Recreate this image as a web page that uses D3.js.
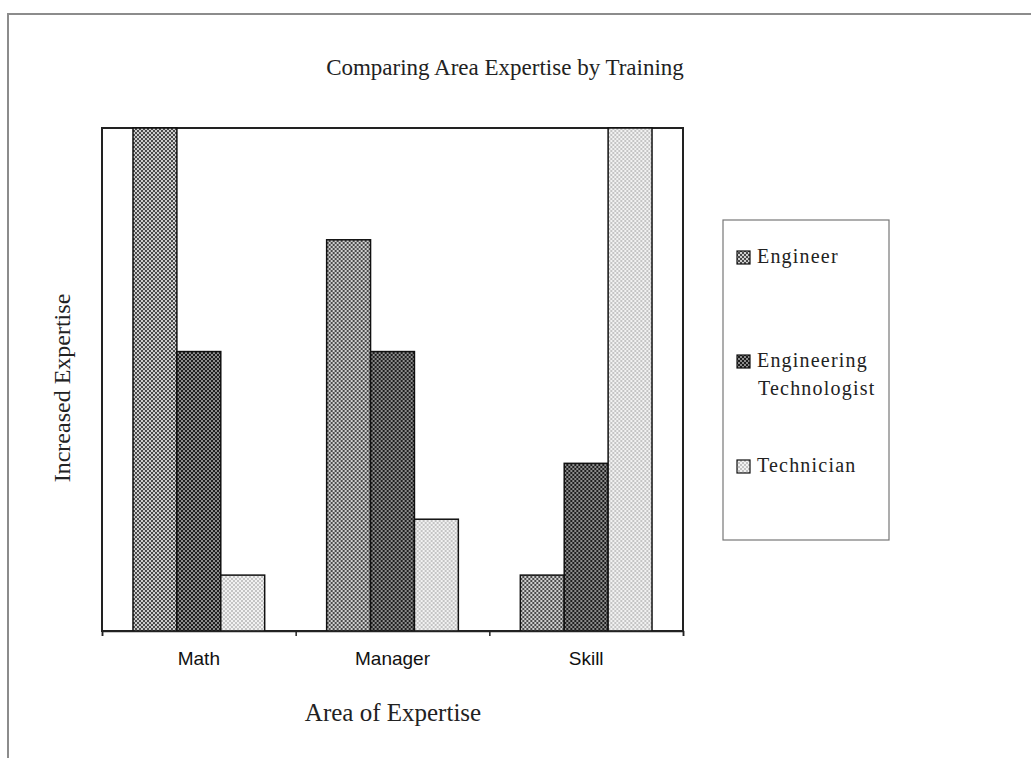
<!DOCTYPE html>
<html>
<head>
<meta charset="utf-8">
<script src="https://cdn.jsdelivr.net/npm/d3@7"></script>
<style>
  body { margin: 0; background: #fff; }
  svg { display: block; }
</style>
</head>
<body>
<div id="chart"></div>
<script>
// data
const categories = ['Math', 'Manager', 'Skill'];
const seriesNames = ['Engineer', 'Engineering Technologist', 'Technician'];
const engineer = [9, 7, 1];
const engTech = [5, 5, 3];
const technician = [1, 2, 9];
const yMax = 9;

const w = 1031, h = 758;
const plotL = 102, plotR = 683, plotT = 128, plotB = 631;

const svg = d3.select('#chart')
  .append('svg')
  .attr('width', w)
  .attr('height', h);

// hatch-like fills
const defs = svg.append('defs');
const fills = [
  { id: 'pEng', base: '#4a4a4a', dot: '#cfcfcf' },
  { id: 'pTech', base: '#1e1e1e', dot: '#8c8c8c' },
  { id: 'pTechn', base: '#f2f2f2', dot: '#c4c4c4' }
];
fills.forEach(f => {
  const p = defs.append('pattern')
    .attr('id', f.id)
    .attr('patternUnits', 'userSpaceOnUse')
    .attr('width', 4).attr('height', 4);
  p.append('rect').attr('width', 4).attr('height', 4).attr('fill', f.base);
  p.append('rect').attr('x', 0).attr('y', 0).attr('width', 2).attr('height', 2).attr('fill', f.dot);
  p.append('rect').attr('x', 2).attr('y', 2).attr('width', 2).attr('height', 2).attr('fill', f.dot);
});

// outer frame (runs off the right and bottom edges)
svg.append('rect')
  .attr('x', 8).attr('y', 14)
  .attr('width', w + 20).attr('height', h + 20)
  .attr('fill', 'none')
  .attr('stroke', '#8c8c8c')
  .attr('stroke-width', 2);

// scales
const x = d3.scaleBand()
  .domain(categories)
  .range([plotL, plotR])
  .paddingInner(0.32)
  .paddingOuter(0.16);

const xSub = d3.scaleBand()
  .domain(seriesNames)
  .range([0, x.bandwidth()]);

const y = d3.scaleLinear()
  .domain([0, yMax])
  .range([plotB, plotT]);

const rows = categories.map((c, i) => ({
  cat: c,
  vals: [engineer[i], engTech[i], technician[i]]
}));

// plot border
svg.append('rect')
  .attr('x', plotL).attr('y', plotT)
  .attr('width', plotR - plotL).attr('height', plotB - plotT)
  .attr('fill', 'none')
  .attr('stroke', '#222')
  .attr('stroke-width', 2);

// bars
const groups = svg.selectAll('g.cat')
  .data(rows)
  .enter()
  .append('g')
  .attr('class', 'cat')
  .attr('transform', d => 'translate(' + x(d.cat) + ',0)');

groups.selectAll('rect')
  .data(d => d.vals.map((v, j) => ({ name: seriesNames[j], v: v, j: j })))
  .enter()
  .append('rect')
  .attr('x', d => xSub(d.name))
  .attr('y', d => y(d.v))
  .attr('width', xSub.bandwidth())
  .attr('height', d => plotB - y(d.v))
  .attr('fill', d => 'url(#' + fills[d.j].id + ')')
  .attr('stroke', '#111')
  .attr('stroke-width', 1.5);

// tick marks at band edges
const xTicks = d3.scaleLinear().domain([0, categories.length]).range([plotL, plotR]);
svg.append('g')
  .attr('transform', 'translate(0,' + plotB + ')')
  .call(d3.axisBottom(xTicks).ticks(categories.length).tickFormat('').tickSize(5).tickSizeOuter(5))
  .call(g => g.selectAll('line, path').attr('stroke', '#222').attr('stroke-width', 1.5));

// category labels
svg.append('g')
  .attr('transform', 'translate(0,' + plotB + ')')
  .call(d3.axisBottom(x).tickSize(0).tickPadding(21))
  .call(g => g.select('.domain').remove())
  .call(g => g.selectAll('text')
    .attr('font-family', 'Liberation Sans, Arial, sans-serif')
    .attr('font-size', 19)
    .attr('fill', '#111'));

// title and axis titles
svg.append('text')
  .attr('x', 505).attr('y', 75)
  .attr('text-anchor', 'middle')
  .attr('font-family', 'Liberation Serif, Times New Roman, serif')
  .attr('font-size', 23)
  .attr('fill', '#222')
  .text('Comparing Area Expertise by Training');

svg.append('text')
  .attr('x', 393).attr('y', 721)
  .attr('text-anchor', 'middle')
  .attr('font-family', 'Liberation Serif, Times New Roman, serif')
  .attr('font-size', 25)
  .attr('fill', '#222')
  .text('Area of Expertise');

svg.append('text')
  .attr('transform', 'translate(70,388) rotate(-90)')
  .attr('text-anchor', 'middle')
  .attr('font-family', 'Liberation Serif, Times New Roman, serif')
  .attr('font-size', 24)
  .attr('fill', '#222')
  .text('Increased Expertise');

// legend
const legend = svg.append('g');
legend.append('rect')
  .attr('x', 723).attr('y', 220)
  .attr('width', 166).attr('height', 320)
  .attr('fill', '#fff')
  .attr('stroke', '#777')
  .attr('stroke-width', 1.2);

const legendRows = [
  { lines: ['Engineer'], y: 263 },
  { lines: ['Engineering', 'Technologist'], y: 367 },
  { lines: ['Technician'], y: 472 }
];

legendRows.forEach((r, i) => {
  legend.append('rect')
    .attr('x', 737).attr('y', r.y - 12)
    .attr('width', 13).attr('height', 13)
    .attr('fill', 'url(#' + fills[i].id + ')')
    .attr('stroke', '#111')
    .attr('stroke-width', 1.2);
  const t = legend.append('text')
    .attr('x', 757).attr('y', r.y)
    .attr('font-family', 'Liberation Serif, Times New Roman, serif')
    .attr('font-size', 20)
    .attr('letter-spacing', 1.2)
    .attr('fill', '#222');
  r.lines.forEach((ln, k) => {
    t.append('tspan')
      .attr('x', k === 0 ? 757 : 758)
      .attr('dy', k === 0 ? 0 : 28)
      .text(ln);
  });
});
</script>
</body>
</html>
